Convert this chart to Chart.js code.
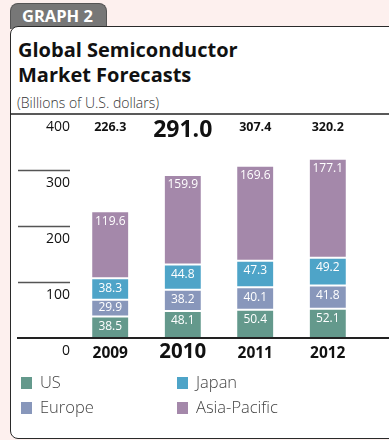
<!DOCTYPE html>
<html>
<head>
<meta charset="utf-8">
<script src="https://cdn.jsdelivr.net/npm/chart.js@4/dist/chart.umd.min.js"></script>
<style>
  html, body { margin: 0; padding: 0; }
  body {
    width: 389px; height: 440px; position: relative; overflow: hidden;
    background: #fdf0ee; font-family: "Open Sans", "Noto Sans", sans-serif;
  }
  .tab {
    position: absolute; left: 10px; top: 3px; width: 97px; height: 26px;
    background: #777; border: 1px solid #555; border-bottom: none;
    border-radius: 8px 8px 0 0; box-sizing: border-box;
    color: #fff; font-weight: 700; font-size: 16.5px; line-height: 24px;
    padding-left: 11px;
  }
  .card {
    position: absolute; left: 10px; top: 26px; width: 420px; height: 413px;
    background: #fff; border: 1.5px solid #2a2a2a; border-radius: 8px 0 0 8px;
    box-sizing: border-box;
  }
  h1 {
    position: absolute; left: 18px; top: 37px; margin: 0;
    font-size: 20px; line-height: 25px; font-weight: 700; color: #111;
  }
  .unit {
    position: absolute; left: 17px; top: 93px; font-size: 14px;
    font-weight: 300; color: #333;
  }
  canvas { position: absolute; left: 0; top: 0; }
  .legend { position: absolute; left: 21px; top: 372px; font-size: 16.5px; font-weight: 300; color: #444; }
  .legend div { position: absolute; white-space: nowrap; line-height: 20px; }
  .legend span {
    display: inline-block; width: 11px; height: 12px; margin-right: 8px;
    vertical-align: -1px;
  }
</style>
</head>
<body>
<div class="tab">GRAPH 2</div>
<div class="card"></div>
<h1>Global Semiconductor<br>Market Forecasts</h1>
<div class="unit">(Billions of U.S. dollars)</div>
<canvas id="chart" width="389" height="440"></canvas>
<div class="legend" id="legend"></div>

<script>
const years = ['2009', '2010', '2011', '2012'];
const us = [38.5, 48.1, 50.4, 52.1];
const europe = [29.9, 38.2, 40.1, 41.8];
const japan = [38.3, 44.8, 47.3, 49.2];
const asiaPacific = [119.6, 159.9, 169.6, 177.1];
const yTicks = [0, 100, 200, 300, 400];
const highlightYear = 1;

const series = [
  { label: 'US', data: us, color: '#64998c' },
  { label: 'Europe', data: europe, color: '#8897bb' },
  { label: 'Japan', data: japan, color: '#4ea4c8' },
  { label: 'Asia-Pacific', data: asiaPacific, color: '#a488aa' }
];

const totals = years.map((_, i) => series.reduce((s, d) => s + d.data[i], 0));

const FONT = '"Open Sans", "Noto Sans", sans-serif';

// axis rules, tick labels, totals and year labels
const decorations = {
  id: 'decorations',
  afterDatasetsDraw(chart) {
    const { ctx, scales: { x, y } } = chart;
    ctx.save();

    // short tick rules on the left
    ctx.strokeStyle = '#555';
    ctx.lineWidth = 1.5;
    [100, 200, 300].forEach(v => {
      const py = Math.round(y.getPixelForValue(v)) + 0.5;
      ctx.beginPath();
      ctx.moveTo(18, py);
      ctx.lineTo(70, py);
      ctx.stroke();
    });

    // top rule and baseline
    ctx.strokeStyle = '#222';
    ctx.lineWidth = 1.5;
    ctx.beginPath();
    ctx.moveTo(10, y.getPixelForValue(400));
    ctx.lineTo(389, y.getPixelForValue(400));
    ctx.stroke();
    ctx.lineWidth = 2;
    ctx.beginPath();
    ctx.moveTo(17, y.getPixelForValue(0));
    ctx.lineTo(389, y.getPixelForValue(0));
    ctx.stroke();

    // y labels sit just below their rule
    ctx.fillStyle = '#111';
    ctx.font = '14px ' + FONT;
    ctx.textAlign = 'right';
    ctx.textBaseline = 'middle';
    yTicks.forEach(v => ctx.fillText(String(v), 70, y.getPixelForValue(v) + 13));

    // totals along the top and year labels under the baseline
    ctx.textAlign = 'center';
    ctx.textBaseline = 'alphabetic';
    const top = y.getPixelForValue(400);
    const base = y.getPixelForValue(0);
    years.forEach((yr, i) => {
      const px = x.getPixelForValue(i);
      const big = i === highlightYear;
      ctx.font = (big ? 'bold 23px ' : 'bold 12.5px ') + FONT;
      ctx.fillText(totals[i].toFixed(1), px, top + (big ? 23 : 16.5));
      ctx.font = (big ? 'bold 20.5px ' : 'bold 15.5px ') + FONT;
      ctx.fillText(yr, px, base + 20);
    });

    // segment values
    ctx.fillStyle = '#fff';
    ctx.font = '12px ' + FONT;
    ctx.textBaseline = 'middle';
    chart.data.datasets.forEach((ds, di) => {
      chart.getDatasetMeta(di).data.forEach((bar, i) => {
        const cy = Math.min(bar.y + 10, (bar.y + bar.base) / 2);
        ctx.fillText(ds.data[i].toFixed(1), bar.x, cy);
      });
    });

    ctx.restore();
  }
};

new Chart(document.getElementById('chart'), {
  type: 'bar',
  data: {
    labels: years,
    datasets: series.map(s => ({
      label: s.label,
      data: s.data,
      backgroundColor: s.color,
      borderColor: '#fff',
      borderWidth: { top: 1, bottom: 1, left: 0, right: 0 },
      borderSkipped: false,
      barPercentage: 0.5,
      categoryPercentage: 1
    }))
  },
  options: {
    responsive: false,
    animation: false,
    devicePixelRatio: 1,
    layout: { padding: { left: 74, right: 25, top: 114, bottom: 102 } },
    scales: {
      x: { stacked: true, display: false },
      y: { stacked: true, display: false, min: 0, max: 400 }
    },
    plugins: { legend: { display: false }, tooltip: { enabled: false } }
  },
  plugins: [decorations]
});

// two-column legend
const legend = document.getElementById('legend');
const spots = [[0, 0], [0, 25], [156, 0], [156, 25]];
series.forEach((s, i) => {
  const d = document.createElement('div');
  d.style.left = spots[i][0] + 'px';
  d.style.top = spots[i][1] + 'px';
  d.innerHTML = '<span style="background:' + s.color + '"></span>' + s.label;
  legend.appendChild(d);
});
</script>
</body>
</html>
